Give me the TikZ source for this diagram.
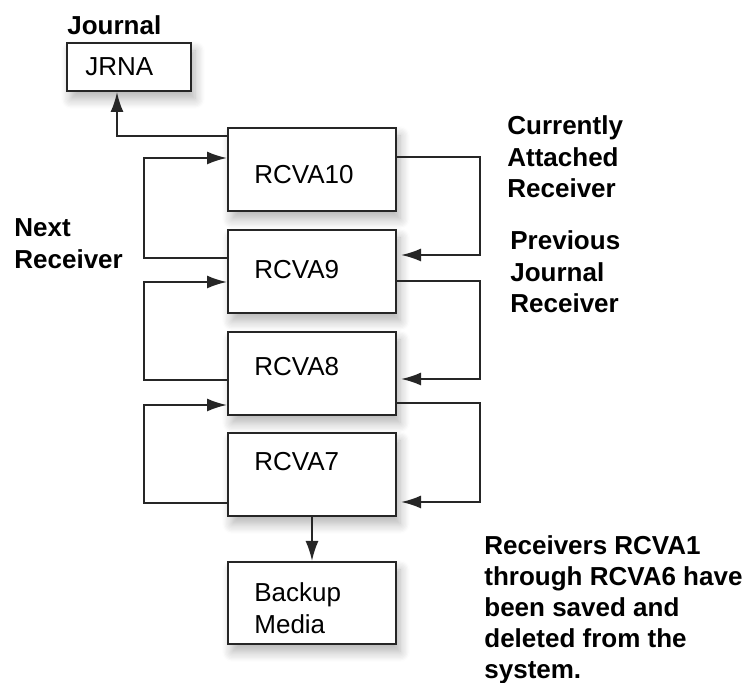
\documentclass[tikz,border=0pt]{standalone}
\usepackage{fontspec}
\setmainfont{Liberation Sans}
\usepackage{tikz}
\usetikzlibrary{arrows.meta,positioning,shadows.blur}

\begin{document}
\begin{tikzpicture}[x=0.5pt,y=-0.5pt,
    rcvbox/.style={draw=black!85, line width=1pt, fill=white, minimum width=84pt, minimum height=41.5pt,
      inner sep=0pt, blur shadow={shadow xshift=2pt, shadow yshift=-4pt, shadow blur steps=8, shadow blur radius=5pt, shadow opacity=30}},
    boxtxt/.style={anchor=west, inner sep=0pt, font=\fontsize{13pt}{15.75pt}\selectfont},
    outtxt/.style={anchor=north west, inner sep=0pt, align=left, font=\fontsize{13pt}{15.75pt}\selectfont\bfseries},
    arr/.style={draw=black!85, line width=1pt, -{Latex[length=10pt,width=6.5pt]}}]
  \useasboundingbox (0,0) rectangle (752,683);

  % boxes
  \node[rcvbox, minimum width=62pt, minimum height=24pt] (jrna) at (129,67) {};
  \node[rcvbox] (r10) at (312,169.5) {};
  \node[rcvbox] (r9) at (312,271.5) {};
  \node[rcvbox] (r8) at (312,373.5) {};
  \node[rcvbox] (r7) at (312,474.5) {};
  \node[rcvbox, minimum height=41pt] (bkp) at (312,603) {};

  \node[boxtxt] (tjrna) at (85,67) {JRNA};
  \node[boxtxt] (t10) at (254,175) {RCVA10};
  \node[boxtxt] (t9) at (254,270) {RCVA9};
  \node[boxtxt] (t8) at (254,367) {RCVA8};
  \node[boxtxt] (t7) at (254,462) {RCVA7};
  \node[boxtxt, anchor=north west, align=left] (tbkp) at (254,582.5) {Backup\\Media};

  % labels
  \node[outtxt, anchor=west] (ljournal) at (67,25) {Journal};
  \node[outtxt] (lnext) at (14,218.5) {Next\\Receiver};
  \node[outtxt] (lcurr) at (507,115.5) {Currently\\Attached\\Receiver};
  \node[outtxt] (lprev) at (510,230.5) {Previous\\Journal\\Receiver};
  \node[outtxt, font=\fontsize{13pt}{15.5pt}\selectfont\bfseries] (lsaved) at (484,535) {Receivers RCVA1\\through RCVA6 have\\been saved and\\deleted from the\\system.};

  % connectors
  \draw[arr] ([yshift=16.75pt]r10.west) -| ([xshift=-6pt]jrna.south);

  \draw[arr] ([yshift=6.75pt]r9.west) -- ++(-41.5pt,0) |- ([yshift=5.75pt]r10.west);
  \draw[arr] ([yshift=-3.25pt]r8.west) -- ++(-41.5pt,0) |- ([yshift=-5.25pt]r9.west);
  \draw[arr] ([yshift=-14.25pt]r7.west) -- ++(-41.5pt,0) |- ([yshift=-15.75pt]r8.west);

  \draw[arr, shorten >=2pt] ([yshift=6.25pt]r10.east) -- ++(41.5pt,0) |- ([yshift=8.25pt]r9.east);
  \draw[arr, shorten >=2pt] ([yshift=-4.75pt]r9.east) -- ++(41.5pt,0) |- ([yshift=-2.75pt]r8.east);
  \draw[arr, shorten >=2pt] ([yshift=-14.75pt]r8.east) -- ++(41.5pt,0) |- ([yshift=-13.75pt]r7.east);

  \draw[arr] (r7.south) -- (bkp.north);
\end{tikzpicture}
\end{document}
